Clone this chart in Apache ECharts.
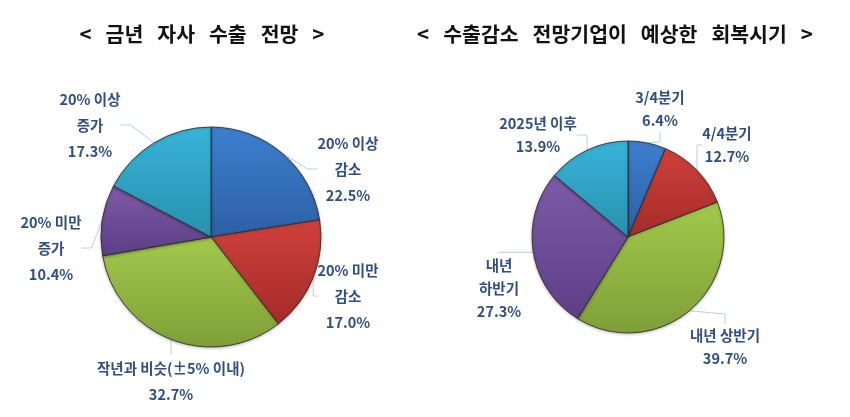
<!DOCTYPE html>
<html><head><meta charset="utf-8">
<script src="https://cdn.jsdelivr.net/npm/echarts@6/dist/echarts.min.js"></script>
<style>html,body{margin:0;padding:0;background:#fff}#c{width:850px;height:417px}</style>
</head><body><div id="c"></div>
<script>
const leftTitle = '<   금년   자사   수출   전망   >';
const rightTitle = '<   수출감소   전망기업이   예상한   회복시기   >';
const leftCategories = ['20% 이상\n감소', '20% 미만\n감소', '작년과 비슷(±5% 이내)', '20% 미만\n증가', '20% 이상\n증가'];
const leftValues = [22.5, 17.0, 32.7, 10.4, 17.3];
const rightCategories = ['3/4분기', '4/4분기', '내년 상반기', '내년\n하반기', '2025년 이후'];
const rightValues = [6.4, 12.7, 39.7, 27.3, 13.9];

const palette = [
  ['#3d80d0', '#2d5fa3'],
  ['#d0413a', '#a32b29'],
  ['#a3c94b', '#7f9f38'],
  ['#7d5aa8', '#5d3f85'],
  ['#37b4d8', '#2990ae']
];
function grad(c) {
  return new echarts.graphic.LinearGradient(0, 0, 0, 1, [{offset: 0, color: c[0]}, {offset: 1, color: c[1]}]);
}
const leftLabelPos = [[348, 169], [348, 296], [171, 381], [51, 248], [90, 125]];
const rightLabelPos = [[660, 109], [727, 145], [725, 347], [499, 288], [538, 135]];

function mkData(cats, vals) {
  return cats.map((n, i) => ({name: n, value: vals[i], itemStyle: {color: grad(palette[i])}}));
}
function mkSeries(cats, vals, center, radius, pos, lh) {
  return {
    type: 'pie',
    center: center,
    radius: radius,
    startAngle: 90,
    clockwise: true,
    animation: false,
    data: mkData(cats, vals),
    itemStyle: {borderColor: 'rgba(45,45,45,0.85)', borderWidth: 1,
      shadowBlur: 3, shadowColor: 'rgba(0,0,0,0.25)', shadowOffsetY: 1},
    label: {
      show: true,
      position: 'outside',
      overflow: 'none',
      formatter: p => p.name + '\n' + p.value.toFixed(1) + '%',
      fontFamily: 'Noto Sans CJK KR',
      fontWeight: 'bold',
      fontSize: 14.5,
      lineHeight: lh,
      color: '#2f4e82'
    },
    labelLine: {show: true, length: 10, length2: 10, lineStyle: {color: '#bcd0e6', width: 1}},
    labelLayout: function (p) {
      const q = pos[p.dataIndex];
      return {x: q[0], y: q[1], align: 'center', verticalAlign: 'middle'};
    },
    emphasis: {disabled: true}
  };
}
const chart = echarts.init(document.getElementById('c'));
chart.setOption({
  backgroundColor: '#ffffff',
  title: [
    {text: leftTitle, left: 197, top: 19, textAlign: 'center',
     textStyle: {fontFamily: 'Noto Sans CJK KR', fontWeight: 'bold', fontSize: 20.5, color: '#111'}},
    {text: rightTitle, left: 610, top: 19, textAlign: 'center',
     textStyle: {fontFamily: 'Noto Sans CJK KR', fontWeight: 'bold', fontSize: 20.5, color: '#111'}}
  ],
  series: [
    mkSeries(leftCategories, leftValues, [211, 237], 110, leftLabelPos, 26),
    mkSeries(rightCategories, rightValues, [628, 237], 96, rightLabelPos, 23)
  ]
});
</script></body></html>
